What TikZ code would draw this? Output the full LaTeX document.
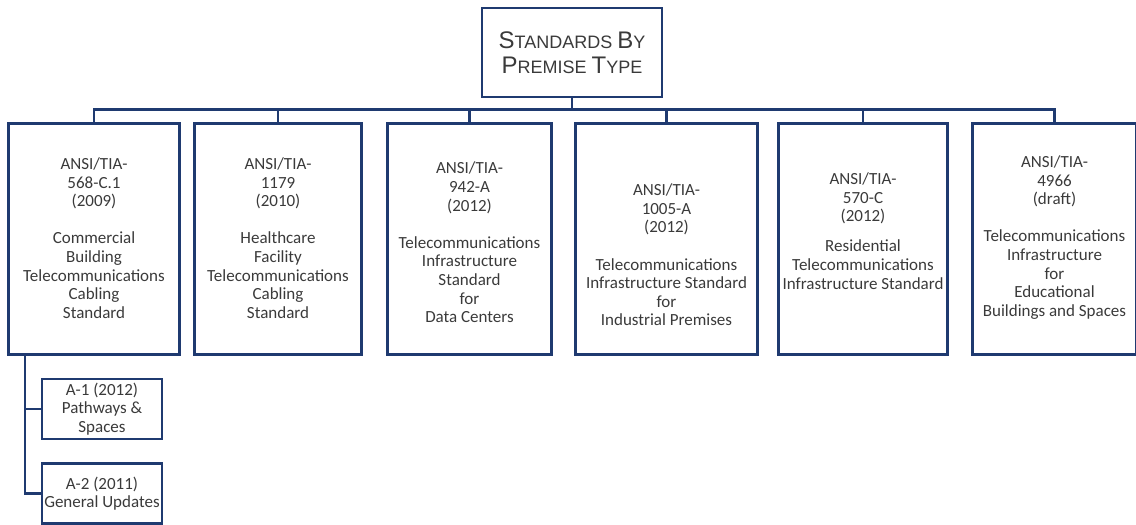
\documentclass[tikz,border=0pt]{standalone}
\usepackage{fontspec}
\setmainfont{Carlito}
\newfontfamily\titlefont{Liberation Sans}
\usetikzlibrary{positioning, calc}
\definecolor{tianavy}{HTML}{1F3A70}
\definecolor{tiagrey}{HTML}{3A3A3A}
\newcommand{\capsword}[2]{{\fontsize{24}{25}\selectfont #1}{\fontsize{18}{25}\selectfont #2}}

\begin{document}
\begin{tikzpicture}[
    x=1pt, y=-1pt,
    bodyfont/.style={font=\fontsize{17}{18.6}\selectfont, text=tiagrey},
    titlebox/.style={rectangle, draw=tianavy, line width=2.7pt, minimum width=180pt, minimum height=89pt, align=center, inner sep=0pt, text=tiagrey, font=\titlefont\fontsize{18}{25}\selectfont},
    stdbox/.style={rectangle, draw=tianavy, line width=2.7pt, minimum height=231pt, inner sep=0pt},
    stdtext/.style={bodyfont, align=center, inner sep=0pt},
    subbox/.style={rectangle, draw=tianavy, line width=2.7pt, minimum width=120pt, minimum height=60pt, align=center, inner sep=0pt, bodyfont},
    conn/.style={draw=tianavy, line width=2.6pt}
]
\useasboundingbox (0,0) rectangle (1136,525);

% Root
\node[titlebox] (title) at (572,52.5) {\capsword{S}{TANDARDS} \capsword{B}{Y}\\\capsword{P}{REMISE} \capsword{T}{YPE}};

% Row 1: the standards
\node[stdbox, minimum width=171pt] (s1) at (94,239) {};
\node[stdbox, minimum width=167pt] (s2) at (278,239) {};
\node[stdbox, minimum width=164pt] (s3) at (469.5,239) {};
\node[stdbox, minimum width=182pt] (s4) at (666.5,239) {};
\node[stdbox, minimum width=169pt] (s5) at (863,239) {};
\node[stdbox, minimum width=164pt] (s6) at (1054.5,239) {};

% Texts of the standards
\node[stdtext] (t1) at (94,238) {ANSI/TIA-\\568-C.1\\(2009)\\[18.6pt]Commercial\\Building\\Telecommunications\\Cabling\\Standard};
\node[stdtext] (t2) at (278,238) {ANSI/TIA-\\1179\\(2010)\\[18.6pt]Healthcare\\Facility\\Telecommunications\\Cabling\\Standard};
\node[stdtext] (t3) at (469.5,242.5) {ANSI/TIA-\\942-A\\(2012)\\[18.6pt]Telecommunications\\Infrastructure\\Standard\\for\\Data Centers};
\node[stdtext] (t4) at (666.5,255) {ANSI/TIA-\\1005-A\\(2012)\\[18.6pt]Telecommunications\\Infrastructure Standard\\for\\Industrial Premises};
\node[stdtext] (t5) at (863,231) {ANSI/TIA-\\570-C\\(2012)\\[11.5pt]Residential\\Telecommunications\\Infrastructure Standard};
\node[stdtext] (t6) at (1054.5,237.5) {ANSI/TIA-\\4966\\(draft)\\[18.6pt]Telecommunications\\Infrastructure\\for\\Educational\\Buildings and Spaces};

% Row 2: addenda of 568-C.1
\node[subbox] (a1) at (102,409) {A-1 (2012)\\Pathways \&\\Spaces};
\node[subbox] (a2) at (102,493.5) {A-2 (2011)\\General Updates};

% Tree from the root
\draw[conn] (title.south) -- ++(0,11) -| (s1.north);
\draw[conn] (title.south) -- ++(0,11) -| (s2.north);
\draw[conn] (title.south) -- ++(0,11) -| (s3.north);
\draw[conn] (title.south) -- ++(0,11) -| (s4.north);
\draw[conn] (title.south) -- ++(0,11) -| (s5.north);
\draw[conn] (title.south) -- ++(0,11) -| (s6.north);

% Addenda branch
\coordinate (trunk) at ($(s1.south west)+(18,0)$);
\draw[conn] (trunk) |- (a2.west);
\draw[conn] (a1.west) -| (trunk);

\end{tikzpicture}
\end{document}
